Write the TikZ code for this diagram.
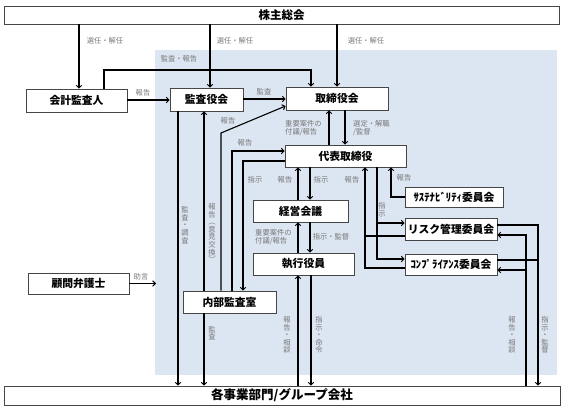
\documentclass[tikz,border=0pt]{standalone}
\usepackage{fontspec}
\setmainfont{Noto Sans CJK JP}
\usetikzlibrary{arrows.meta}
\definecolor{bgblue}{RGB}{220,230,242}
\definecolor{labgray}{RGB}{120,120,120}
\definecolor{boxline}{RGB}{70,70,70}
\tikzset{
  box/.style={draw=boxline,line width=0.8pt,fill=white,inner sep=0pt,font=\bfseries\fontsize{10.8}{12}\selectfont},
  arr/.style={line width=1.1pt,-{Straight Barb[length=2.6pt,width=5.5pt,line width=1pt]}},
  ln/.style={line width=1.1pt},
  lab/.style={text=labgray,inner sep=0pt,font=\fontsize{7.3}{8.2}\selectfont},
  vlab/.style={lab,align=center,font=\fontsize{7.3}{7.6}\selectfont}
}
\begin{document}
\begin{tikzpicture}[x=1pt,y=-1pt]
\useasboundingbox (0,0) rectangle (564,409);
\fill[bgblue] (155,50) rectangle (557,375);
% nodes
\node[box,minimum width=555pt,minimum height=18pt,font=\bfseries\fontsize{11.5}{13}\selectfont] (kabu) at (281.5,15) {株主総会};
\node[box,minimum width=101pt,minimum height=23pt] (kaikei) at (76.5,100.5) {会計監査人};
\node[box,minimum width=73pt,minimum height=23pt] (kansa) at (206.5,99.5) {監査役会};
\node[box,minimum width=102pt,minimum height=23pt] (tori) at (337,98.5) {取締役会};
\node[box,minimum width=121pt,minimum height=22pt] (daihyo) at (345.5,156) {代表取締役};
\node[box,minimum width=95pt,minimum height=22pt] (keiei) at (300.5,211) {経営会議};
\node[box,minimum width=101pt,minimum height=22pt] (shikko) at (303.5,264) {執行役員};
\node[box,minimum width=93pt,minimum height=22pt] (naibu) at (229.5,302) {内部監査室};
\node[box,minimum width=101pt,minimum height=21pt] (komon) at (78.5,283.5) {顧問弁護士};
\node[box,minimum width=98pt,minimum height=20pt] (sus) at (454,197) {ｻｽﾃﾅﾋﾞﾘﾃｨ委員会};
\node[box,minimum width=92pt,minimum height=22pt] (risk) at (451,229) {リスク管理委員会};
\node[box,minimum width=92pt,minimum height=21pt] (comp) at (451,264.5) {ｺﾝﾌﾟﾗｲｱﾝｽ委員会};
\node[box,minimum width=556pt,minimum height=19pt,font=\bfseries\fontsize{12.5}{14}\selectfont] (bottom) at (282,395.5) {各事業部門/グループ会社};
\coordinate (adv) at (156,283.5);
% connectors
\draw[arr] (79,0 |- kabu.south) -- (79,0 |- kaikei.north);
\draw[arr] (210,0 |- kabu.south) -- (210,0 |- kansa.north);
\draw[arr] (337,0 |- kabu.south) -- (337,0 |- tori.north);
\draw[arr] (104,0 |- kaikei.north) -- (104,70) -- (311,70) -- (311,0 |- tori.north);
\draw[arr] (kaikei.east |- 0,100) -- (kansa.west |- 0,100);
\draw[arr] (kansa.east |- 0,99) -- (tori.west |- 0,99);
\draw[arr] (178,0 |- kansa.south) -- (178,0 |- bottom.north);
\draw[arr] (204,0 |- naibu.north) -- (204,0 |- kansa.south);
\draw[arr] (221,0 |- naibu.north) -- (221,133) -- (tori.west |- 0,106);
\draw[arr] (232,0 |- naibu.north) -- (232,151) -- (daihyo.west |- 0,151);
\draw[arr] (daihyo.west |- 0,161) -- (243,161) -- (243,0 |- naibu.north);
\draw[arr] (298,0 |- keiei.north) -- (298,0 |- daihyo.south);
\draw[arr] (310,0 |- daihyo.south) -- (310,0 |- keiei.north);
\draw[arr] (298,0 |- shikko.north) -- (298,0 |- keiei.south);
\draw[arr] (310,0 |- keiei.south) -- (310,0 |- shikko.north);
\draw[arr] (298,0 |- bottom.north) -- (298,0 |- shikko.south);
\draw[arr] (311,0 |- shikko.south) -- (311,0 |- bottom.north);
\draw[arr] (204,0 |- naibu.south) -- (204,0 |- bottom.north);
\draw[arr] (329,0 |- daihyo.north) -- (329,0 |- tori.south);
\draw[arr] (345,0 |- tori.south) -- (345,0 |- daihyo.north);
\draw[ln] (risk.west |- 0,236) -- (365,236);
\draw[arr] (comp.west |- 0,268) -- (365,268) -- (365,0 |- daihyo.south);
\draw[arr] (377,0 |- daihyo.south) -- (377,259) -- (comp.west |- 0,259);
\draw[arr] (377,223) -- (risk.west |- 0,223);
\draw[arr] (sus.west) -- (391,0 |- sus.west) -- (391,0 |- daihyo.south);
\draw[arr] (risk.east |- 0,225) -- (538,225) -- (538,0 |- bottom.north);
\draw[ln] (comp.east |- 0,260) -- (538,260);
\draw[arr] (526,0 |- bottom.north) -- (526,235) -- (risk.east |- 0,235);
\draw[arr] (526,270) -- (comp.east |- 0,270);
\draw[arr] (komon.east) -- (adv);
% labels
\node[lab] at (105,41) {選任・解任};
\node[lab] at (235,41) {選任・解任};
\node[lab] at (366,41) {選任・解任};
\node[lab] at (179,59) {監査・報告};
\node[lab] at (143,93) {報告};
\node[lab] at (264,92) {監査};
\node[lab] at (228,121) {報告};
\node[lab] at (245,143) {報告};
\node[lab,align=left,anchor=west] at (285,128) {重要案件の\\付議/報告};
\node[lab,align=left,anchor=west] at (353,128) {選定・解職\\/監督};
\node[lab] at (255,180) {指示};
\node[lab] at (285,180) {報告};
\node[lab] at (321,180) {指示};
\node[lab] at (352,180) {報告};
\node[lab] at (404,178) {報告};
\node[vlab] at (382,210) {指\\示};
\node[lab,align=left,anchor=west] at (255,237) {重要案件の\\付議/報告};
\node[lab] at (331,237) {指示・監督};
\node[vlab] at (185,225) {監\\査\\・\\調\\査};
\node[vlab] at (212,233) {報\\告\\︵\\意\\見\\交\\換\\︶};
\node[lab] at (141,277) {助言};
\node[vlab] at (212,333) {監\\査};
\node[vlab] at (287,335) {報\\告\\・\\相\\談};
\node[vlab] at (319,335) {指\\示\\・\\命\\令};
\node[vlab] at (512,335) {報\\告\\・\\相\\談};
\node[vlab] at (545,335) {指\\示\\・\\監\\督};
\end{tikzpicture}
\end{document}
